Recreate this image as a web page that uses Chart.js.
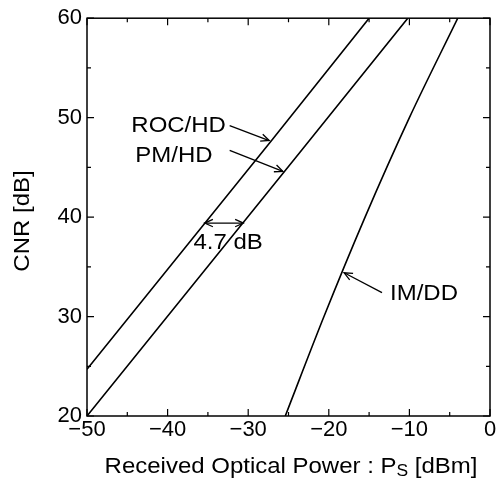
<!DOCTYPE html>
<html>
<head>
<meta charset="utf-8">
<script src="https://cdn.jsdelivr.net/npm/chart.js@4/dist/chart.umd.min.js"></script>
<style>
  body { margin: 0; background: #fff; }
  #wrap { width: 498px; height: 481px; }
</style>
</head>
<body>
<div id="wrap"><canvas id="chart"></canvas></div>
<script>
// curves (x: received power in dBm, y: CNR in dB)
const rocX = [-50, -27, -15];
const rocY = [24.7, 47.8, 60];
const pmX = [-50, -23.6, -10.2];
const pmY = [20, 46.5, 60];
const imX = [-25.4, -20.6, -15.5, -10.0, -4.0];
const imY = [20, 30, 40, 50, 60];

const xTicks = [-50, -40, -30, -20, -10, 0];
const yTicks = [20, 30, 40, 50, 60];
const xMinor = [-45, -35, -25, -15, -5];
const yMinor = [25, 35, 45, 55];

const FONT = "'Liberation Sans', Arial, Helvetica, sans-serif";
const STRETCH = 1.09; // scanned lettering is a bit wider than Arial

function toPoints(xs, ys) {
  return xs.map((x, i) => ({ x: x, y: ys[i] }));
}

function wideText(ctx, text, x, y) {
  ctx.save();
  ctx.translate(x, y);
  ctx.scale(STRETCH, 1);
  ctx.fillText(text, 0, 0);
  ctx.restore();
}

function arrowHead(ctx, x1, y1, x2, y2) {
  const a = Math.atan2(y2 - y1, x2 - x1);
  const len = 9, spread = 0.42;
  ctx.beginPath();
  ctx.moveTo(x2 - len * Math.cos(a - spread), y2 - len * Math.sin(a - spread));
  ctx.lineTo(x2, y2);
  ctx.lineTo(x2 - len * Math.cos(a + spread), y2 - len * Math.sin(a + spread));
  ctx.stroke();
}

// frame, inward ticks, labels and arrows
const decor = {
  id: "decor",
  afterDraw(chart) {
    const ctx = chart.ctx;
    const xs = chart.scales.x, ys = chart.scales.y;
    const a = chart.chartArea;
    const px = v => xs.getPixelForValue(v);
    const py = v => ys.getPixelForValue(v);

    ctx.save();
    ctx.strokeStyle = "#000";
    ctx.fillStyle = "#000";
    ctx.lineWidth = 1.5;
    ctx.strokeRect(a.left, a.top, a.right - a.left, a.bottom - a.top);

    ctx.lineWidth = 1.2;
    ctx.beginPath();
    const tick = (vals, len) => {
      vals.forEach(v => {
        const x = px(v);
        ctx.moveTo(x, a.bottom); ctx.lineTo(x, a.bottom - len);
        ctx.moveTo(x, a.top); ctx.lineTo(x, a.top + len);
      });
    };
    const ytick = (vals, len) => {
      vals.forEach(v => {
        const y = py(v);
        ctx.moveTo(a.left, y); ctx.lineTo(a.left + len, y);
        ctx.moveTo(a.right, y); ctx.lineTo(a.right - len, y);
      });
    };
    tick(xTicks, 7); tick(xMinor, 4);
    ytick(yTicks, 7); ytick(yMinor, 4);
    ctx.stroke();

    // curve labels
    ctx.font = "22px " + FONT;
    ctx.textAlign = "left";
    ctx.textBaseline = "middle";
    wideText(ctx, "ROC/HD", px(-44.5), py(49.2));
    wideText(ctx, "PM/HD", px(-44.0), py(46.1));
    wideText(ctx, "4.7 dB", px(-36.8), py(37.4));
    wideText(ctx, "IM/DD", px(-12.4), py(32.3));

    ctx.lineWidth = 1.3;
    const arrows = [
      [-32.3, 49.2, -27.4, 47.7],
      [-32.3, 46.7, -25.7, 44.6],
      [-13.4, 32.4, -18.1, 34.4]
    ];
    arrows.forEach(([x1, y1, x2, y2]) => {
      ctx.beginPath();
      ctx.moveTo(px(x1), py(y1));
      ctx.lineTo(px(x2), py(y2));
      ctx.stroke();
      arrowHead(ctx, px(x1), py(y1), px(x2), py(y2));
    });
    // 4.7 dB double arrow
    ctx.beginPath();
    ctx.moveTo(px(-35.4), py(39.4));
    ctx.lineTo(px(-30.6), py(39.4));
    ctx.stroke();
    arrowHead(ctx, px(-30.6), py(39.4), px(-35.4), py(39.4));
    arrowHead(ctx, px(-35.4), py(39.4), px(-30.6), py(39.4));

    // axis titles
    const main = "Received Optical Power : P";
    const sub = "S";
    const tail = " [dBm]";
    ctx.font = "22px " + FONT;
    const w1 = ctx.measureText(main).width * STRETCH;
    const w3 = ctx.measureText(tail).width * STRETCH;
    ctx.font = "16px " + FONT;
    const w2 = ctx.measureText(sub).width * STRETCH;
    const x0 = 291 - (w1 + w2 + w3) / 2;
    const ty = 467;
    ctx.font = "22px " + FONT;
    wideText(ctx, main, x0, ty);
    ctx.font = "16px " + FONT;
    wideText(ctx, sub, x0 + w1, ty + 5);
    ctx.font = "22px " + FONT;
    wideText(ctx, tail, x0 + w1 + w2, ty);

    ctx.translate(23, 221);
    ctx.rotate(-Math.PI / 2);
    ctx.textAlign = "center";
    wideText(ctx, "CNR [dB]", 0, 0);
    ctx.restore();
  }
};

const lineStyle = {
  borderColor: "#000",
  borderWidth: 1.6,
  pointRadius: 0,
  showLine: true,
  fill: false
};

new Chart(document.getElementById("chart"), {
  type: "scatter",
  data: {
    datasets: [
      Object.assign({ label: "ROC/HD", data: toPoints(rocX, rocY), tension: 0 }, lineStyle),
      Object.assign({ label: "PM/HD", data: toPoints(pmX, pmY), tension: 0 }, lineStyle),
      Object.assign({ label: "IM/DD", data: toPoints(imX, imY), cubicInterpolationMode: "monotone" }, lineStyle)
    ]
  },
  options: {
    responsive: true,
    maintainAspectRatio: false,
    animation: false,
    layout: { padding: { top: 15, right: 8, left: 0, bottom: 0 } },
    plugins: { legend: { display: false }, tooltip: { enabled: false } },
    scales: {
      x: {
        type: "linear",
        min: -50,
        max: 0,
        grid: { display: false, drawTicks: false },
        border: { display: false },
        afterBuildTicks: s => { s.ticks = xTicks.map(v => ({ value: v })); },
        afterFit: s => { s.height = 65; },
        ticks: {
          autoSkip: false,
          maxRotation: 0,
          padding: 1,
          color: "#000",
          font: { size: 22, family: FONT },
          callback: v => String(v).replace("-", "\u2212")
        }
      },
      y: {
        type: "linear",
        min: 20,
        max: 60,
        grid: { display: false, drawTicks: false },
        border: { display: false },
        afterBuildTicks: s => { s.ticks = yTicks.map(v => ({ value: v })); },
        afterFit: s => { s.width = 87; },
        ticks: {
          autoSkip: false,
          padding: 5,
          color: "#000",
          font: { size: 22, family: FONT }
        }
      }
    }
  },
  plugins: [decor]
});
</script>
</body>
</html>
